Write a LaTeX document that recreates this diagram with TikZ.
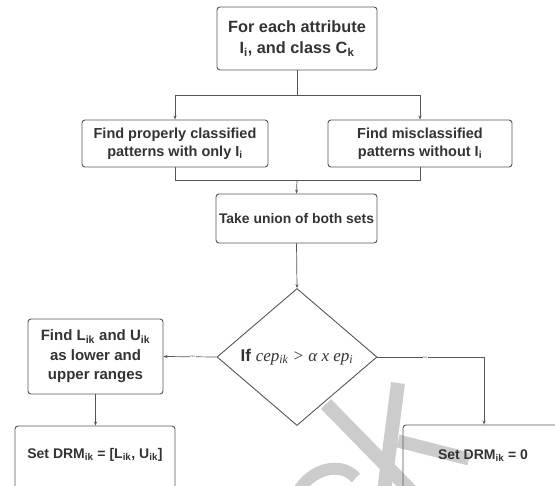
\documentclass[tikz,border=0pt]{standalone}
\usepackage{fontspec}
\setmainfont{Liberation Sans}
\newfontfamily\tmsit{Liberation Serif}
\usetikzlibrary{arrows.meta,shapes.geometric}
\definecolor{lncol}{HTML}{555555}
\definecolor{txcol}{HTML}{333333}
\definecolor{wmcol}{HTML}{CCCCCC}
\begin{document}
\begin{tikzpicture}[x=1pt,y=-1pt,
  box/.style={draw=lncol,line width=0.9pt,rounded corners=3pt,inner sep=0pt,text=txcol,align=center,font=\bfseries\fontsize{14.5}{18}\selectfont},
  conn/.style={draw=lncol,line width=0.7pt},
  arr/.style={conn,-{Stealth[length=4pt,width=3pt]}},
  wm/.style={draw=wmcol,line cap=butt},
  lbl/.style={text=txcol,font=\bfseries\fontsize{14}{18}\selectfont,inner sep=0pt},
  tiny/.style={text=lncol,font=\fontsize{3}{3}\selectfont,inner sep=0.5pt}]
\useasboundingbox (0,0) rectangle (555,486);
\clip (0,0) rectangle (555,486);
% watermark
\draw[wm,line width=14pt] (326,404) -- (412,492);
\draw[wm,line width=14pt] (398,383) -- (384,492);
\draw[wm,line width=13pt] (398,441) -- (469,459);
\draw[wm,line width=12pt] (298,492) .. controls (310,470) and (340,460) .. (356,478);
% nodes
\node[box,minimum width=160pt,minimum height=63pt,font=\bfseries\fontsize{16.3}{21}\selectfont] (top) at (297,38.5) {For each attribute\\I\textsubscript{i}, and class C\textsubscript{k}};
\node[box,minimum width=186pt,minimum height=47pt] (left1) at (175,143.5) {Find properly classified\\patterns with only I\textsubscript{i}};
\node[box,minimum width=184pt,minimum height=47pt] (right1) at (420,143.5) {Find misclassified\\patterns without I\textsubscript{i}};
\node[box,minimum width=161pt,minimum height=49pt,font=\bfseries\fontsize{13.9}{18}\selectfont] (union) at (296.5,218.5) {Take union of both sets};
\node[diamond,draw=lncol,line width=0.9pt,minimum width=160pt,minimum height=137pt,inner sep=0pt] (dec) at (297,357) {};
\node[lbl,font=\bfseries\fontsize{17}{20}\selectfont] (dectext) at (297,357) {If {\mdseries\tmsit\itshape cep\textsubscript{ik} > α x ep\textsubscript{i}}};
\node[box,minimum width=135pt,minimum height=75pt,font=\bfseries\fontsize{15}{19.5}\selectfont] (findL) at (95.5,356.5) {Find L\textsubscript{ik} and U\textsubscript{ik}\\as lower and\\upper ranges};
\node[box,minimum width=160pt,minimum height=100pt] (setL) at (95,476) {};
\node[lbl] (setLt) at (95,455) {Set DRM\textsubscript{ik} = [L\textsubscript{ik}, U\textsubscript{ik}]};
\node[box,minimum width=197pt,minimum height=100pt] (setR) at (501.5,475) {};
\node[lbl] (setRt) at (483,456) {Set DRM\textsubscript{ik} = 0};
% connectors
\coordinate (split) at (297,95);
\coordinate (merge) at (297,180);
\coordinate (noTurn) at (484,357);
\draw[conn] (top.south) -- (split);
\draw[arr] (split) -| (left1.north);
\draw[arr] (split) -| (right1.north);
\draw[conn] (left1.south) |- (merge);
\draw[conn] (right1.south) |- (merge);
\draw[arr] (merge) -- (union.north);
\draw[arr] (union.south) -- (dec.north);
\draw[arr] (dec.west) -- node[tiny,pos=0.45,fill=white] {Yes} (findL.east);
\draw[conn] (dec.east) -- node[tiny,pos=0.45,fill=white] {No} (noTurn);
\draw[arr] (noTurn) -- (noTurn |- setR.north);
\draw[arr] (findL.south) -- (findL.south |- setL.north);
\end{tikzpicture}
\end{document}
